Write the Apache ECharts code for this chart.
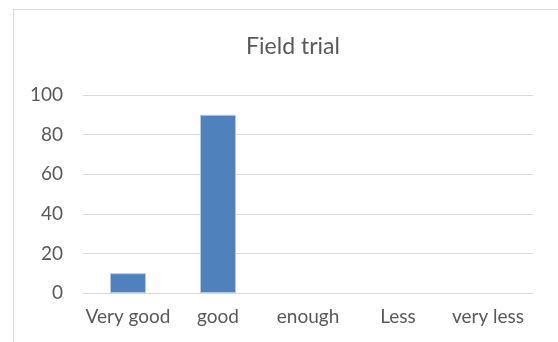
<!DOCTYPE html>
<html>
<head>
<meta charset="utf-8">
<script src="https://cdn.jsdelivr.net/npm/echarts@6/dist/echarts.min.js"></script>
<style>
  html, body { margin: 0; padding: 0; background: #fff; }
  #chart { width: 558px; height: 342px; }
</style>
</head>
<body>
<div id="chart"></div>
<script>
// Ratings and their counts from the field trial
const categories = ['Very good', 'good', 'enough', 'Less', 'very less'];
const values = [10, 90, 0, 0, 0];
const yTicks = { min: 0, max: 100, interval: 20 };

const chart = echarts.init(document.getElementById('chart'), null, { renderer: 'canvas' });
const font = 'Lato, "Open Sans", sans-serif';

// Empty categories get no outline, so nothing is drawn for them
const barData = values.map(v => v === 0 ? { value: v, itemStyle: { borderWidth: 0 } } : v);

chart.setOption({
  animation: false,
  backgroundColor: '#ffffff',
  title: {
    text: 'Field trial',
    left: 288,
    textAlign: 'center',
    top: 30,
    textStyle: { fontFamily: font, fontSize: 23, fontWeight: 'normal', color: '#595959' }
  },
  graphic: [{
    type: 'rect',
    shape: { x: 13.5, y: 9.5, width: 600, height: 400 },
    style: { fill: 'none', stroke: '#d9d9d9', lineWidth: 1 },
    silent: true, z: -1
  }],
  grid: { left: 83, right: 25, top: 95, bottom: 49, containLabel: false },
  xAxis: {
    type: 'category',
    data: categories,
    axisLine: { show: true, lineStyle: { color: '#d9d9d9', width: 1 } },
    axisTick: { show: false },
    axisLabel: { fontFamily: font, fontSize: 19, color: '#595959', margin: 14, interval: 0 }
  },
  yAxis: {
    type: 'value',
    min: yTicks.min, max: yTicks.max, interval: yTicks.interval,
    axisLine: { show: false },
    axisTick: { show: false },
    splitLine: { lineStyle: { color: '#d9d9d9', width: 1 } },
    axisLabel: { fontFamily: font, fontSize: 19, color: '#595959', margin: 20 }
  },
  series: [{
    type: 'bar',
    data: barData,
    barWidth: 36,
    itemStyle: { color: '#4f81bd', borderColor: '#b4c8e4', borderWidth: 1 }
  }]
});
</script>
</body>
</html>
